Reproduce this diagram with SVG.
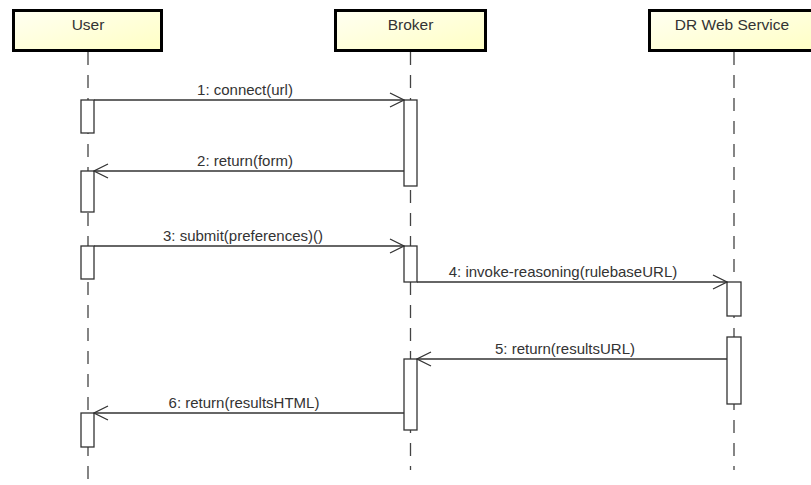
<svg xmlns="http://www.w3.org/2000/svg" width="811" height="485" viewBox="0 0 811 485">
<defs>
<linearGradient id="hdr" x1="0" y1="0" x2="1" y2="1">
<stop offset="0" stop-color="#fffff2"/>
<stop offset="1" stop-color="#ffffc4"/>
</linearGradient>
<marker id="open" viewBox="0 0 16 16" refX="15" refY="8" markerWidth="16" markerHeight="16" markerUnits="userSpaceOnUse" orient="auto">
<path d="M1,1 L15,8 L1,15" fill="none" stroke="#333" stroke-width="1.3"/>
</marker>
<style>
.hdr{fill:url(#hdr);stroke:#000;stroke-width:3}
.title{font-family:"Liberation Sans",Arial,sans-serif;font-size:15.5px;fill:#333;text-anchor:middle}
.life{stroke:#444;stroke-width:1.3;stroke-dasharray:13 10;fill:none}
.act{fill:#fff;stroke:#333;stroke-width:1.3}
.msg{stroke:#333;stroke-width:1.3;fill:none;marker-end:url(#open)}
.lbl{font-family:"Liberation Sans",Arial,sans-serif;font-size:15px;fill:#333;text-anchor:middle}
</style>
</defs>
<rect width="811" height="485" fill="#fff"/>
<g id="lifelines">
<line class="life" x1="88" y1="52" x2="88" y2="485"/>
<line class="life" x1="410.5" y1="52" x2="410.5" y2="470"/>
<line class="life" x1="734" y1="52" x2="734" y2="470"/>
</g>
<g id="user">
<rect class="hdr" x="13.5" y="10.5" width="148" height="40"/>
<text class="title" x="88" y="30">User</text>
<rect class="act" x="81" y="100" width="13" height="33"/>
<rect class="act" x="81" y="171" width="13" height="41"/>
<rect class="act" x="81" y="246" width="13" height="33"/>
<rect class="act" x="81" y="413" width="13" height="34"/>
</g>
<g id="broker">
<rect class="hdr" x="335.5" y="10.5" width="150" height="40"/>
<text class="title" x="410.5" y="30">Broker</text>
<rect class="act" x="404" y="100" width="13" height="86"/>
<rect class="act" x="404" y="246" width="13" height="36"/>
<rect class="act" x="404" y="359" width="13" height="71"/>
</g>
<g id="drws">
<rect class="hdr" x="649.5" y="10.5" width="170" height="40"/>
<text class="title" x="732" y="30">DR Web Service</text>
<rect class="act" x="727" y="282" width="14" height="34"/>
<rect class="act" x="727" y="337" width="14" height="67"/>
</g>
<g id="connectors">
<line class="msg" x1="94" y1="100" x2="404" y2="100"/>
<text class="lbl" x="245" y="95">1: connect(url)</text>
<line class="msg" x1="404" y1="171" x2="94" y2="171"/>
<text class="lbl" x="245" y="166">2: return(form)</text>
<line class="msg" x1="94" y1="246" x2="404" y2="246"/>
<text class="lbl" x="243" y="241">3: submit(preferences)()</text>
<line class="msg" x1="417" y1="282" x2="727" y2="282"/>
<text class="lbl" x="563" y="277">4: invoke-reasoning(rulebaseURL)</text>
<line class="msg" x1="727" y1="359" x2="417" y2="359"/>
<text class="lbl" x="565" y="354">5: return(resultsURL)</text>
<line class="msg" x1="404" y1="413" x2="94" y2="413"/>
<text class="lbl" x="244" y="408">6: return(resultsHTML)</text>
</g>
</svg>
